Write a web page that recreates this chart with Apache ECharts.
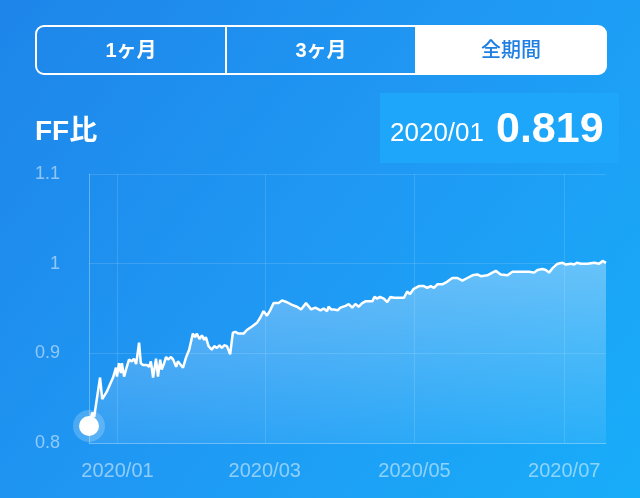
<!DOCTYPE html>
<html>
<head>
<meta charset="utf-8">
<script src="https://cdn.jsdelivr.net/npm/echarts@6/dist/echarts.min.js"></script>
<style>
html,body{margin:0;padding:0;width:640px;height:498px;overflow:hidden;}
#chart{width:640px;height:498px;}
</style>
</head>
<body>
<div id="chart"></div>
<script>
// ---- data (x = days since 2020-01-01) ----
const days = [-11.6,-10.3,-9.5,-7.1,-6.2,-4.4,-2.8,-1.8,-1.0,-0.6,-0.2,0.6,1.4,1.8,2.7,3.8,4.7,5.8,6.7,7.6,8.8,9.5,10.4,12.0,12.9,13.6,14.5,15.7,16.5,17.4,18.0,19.0,19.8,20.6,21.8,22.7,23.9,24.6,25.8,26.7,28.0,29.2,30.7,31.6,32.3,33.4,34.4,35.3,36.0,37.1,38.4,39.4,40.5,41.6,42.5,43.5,44.6,45.9,47.0,48.0,49.3,51.4,52.7,54.8,56.8,58.2,59.5,60.9,62.2,63.6,65.6,67.0,69.1,71.1,73.1,74.8,76.8,78.9,80.6,82.7,84.0,85.4,86.0,87.0,88.1,89.7,90.8,92.9,94.2,95.6,96.9,98.3,99.7,101.0,103.8,104.7,105.8,106.9,108.5,109.9,111.2,112.6,116.7,118.0,119.1,120.7,122.8,124.8,126.2,127.6,128.9,130.3,132.3,134.4,136.4,138.5,140.5,142.5,144.6,146.6,148.0,150.7,152.7,154.1,156.1,158.9,160.9,162.9,165.0,167.7,169.7,171.1,173.1,174.5,175.8,177.2,179.3,181.3,182.7,184.7,186.0,187.1,188.8,191.5,194.2,194.9,196.2,197.6,199.0];
const values = [0.819,0.834,0.829,0.873,0.849,0.857,0.867,0.873,0.873,0.884,0.874,0.889,0.878,0.889,0.874,0.885,0.893,0.891,0.894,0.888,0.912,0.889,0.887,0.887,0.885,0.891,0.873,0.894,0.874,0.893,0.882,0.889,0.896,0.893,0.896,0.893,0.885,0.891,0.887,0.884,0.896,0.904,0.922,0.918,0.922,0.916,0.920,0.915,0.918,0.908,0.904,0.908,0.906,0.909,0.906,0.909,0.908,0.899,0.923,0.924,0.922,0.922,0.926,0.930,0.934,0.940,0.947,0.942,0.948,0.956,0.956,0.959,0.957,0.954,0.952,0.949,0.956,0.949,0.951,0.948,0.950,0.947,0.952,0.949,0.949,0.948,0.951,0.953,0.955,0.951,0.955,0.952,0.956,0.958,0.958,0.963,0.961,0.963,0.961,0.957,0.963,0.962,0.962,0.969,0.966,0.972,0.975,0.975,0.973,0.975,0.973,0.977,0.977,0.980,0.984,0.984,0.981,0.984,0.987,0.988,0.986,0.987,0.990,0.992,0.988,0.987,0.991,0.991,0.991,0.991,0.990,0.993,0.994,0.993,0.990,0.995,1.000,1.001,0.999,1.000,0.999,1.001,1.000,1.000,1.001,1.002,1.000,1.003,1.001];
const tickDays = [0, 60, 121, 182];
const tickLabels = ['2020/01', '2020/03', '2020/05', '2020/07'];
const tabs = ['1ヶ月', '3ヶ月', '全期間'];
const title = 'FF比';
const headerDate = '2020/01';

const FONT = "'Liberation Sans', 'Noto Sans CJK JP', sans-serif";
const seriesData = days.map((d, i) => [d, values[i]]);

const chart = echarts.init(document.getElementById('chart'), null, {renderer: 'canvas'});

const tabW = 570 / 3;
const graphics = [
  {type: 'rect', z: -100, silent: true, shape: {x: 0, y: 0, width: 640, height: 498},
   style: {fill: {type: 'linear', x: 0, y: 0, x2: 1, y2: 1, colorStops: [
     {offset: 0, color: '#1e85e9'}, {offset: 0.5, color: '#1f99f4'}, {offset: 1, color: '#18adf9'}]}}},
  // selected (white) tab
  {type: 'rect', shape: {x: 36 + tabW * 2, y: 26, width: tabW, height: 48, r: [0, 8, 8, 0]}, style: {fill: '#ffffff'}},
  {type: 'rect', shape: {x: 36, y: 26, width: 570, height: 48, r: 8}, style: {fill: 'none', stroke: '#ffffff', lineWidth: 2}},
  {type: 'line', shape: {x1: 36 + tabW, y1: 26, x2: 36 + tabW, y2: 74}, style: {stroke: '#ffffff', lineWidth: 2}},
  {type: 'line', shape: {x1: 36 + tabW * 2, y1: 26, x2: 36 + tabW * 2, y2: 74}, style: {stroke: '#ffffff', lineWidth: 2}},
  // value box
  {type: 'rect', shape: {x: 380, y: 93, width: 239, height: 70}, style: {fill: '#1ea6fa'}},
  {type: 'text', x: 35, y: 132, style: {text: title, fill: '#ffffff', font: 'bold 28px ' + FONT, textAlign: 'left', textVerticalAlign: 'middle'}},
  {type: 'text', x: 390, y: 134, style: {text: headerDate, fill: '#ffffff', font: '26px ' + FONT, textAlign: 'left', textVerticalAlign: 'middle'}},
  {type: 'text', x: 496, y: 130, style: {text: values[0].toFixed(3), fill: '#ffffff', font: 'bold 43px ' + FONT, textAlign: 'left', textVerticalAlign: 'middle'}}
];
tabs.forEach((t, i) => {
  graphics.push({type: 'text', x: 36 + tabW * i + tabW / 2, y: 51,
    style: {text: t, fill: i === 2 ? '#1f7fe2' : '#ffffff', font: (i === 2 ? '500 ' : 'bold ') + '20px ' + FONT,
      textAlign: 'center', textVerticalAlign: 'middle'}});
});

const option = {
  animation: false,
  graphic: graphics,
  grid: {left: 89, right: 34, top: 174, bottom: 55, containLabel: false},
  xAxis: {
    type: 'value', min: 'dataMin', max: 'dataMax',
    axisLine: {show: true, onZero: false, lineStyle: {color: 'rgba(255,255,255,0.25)', width: 1}},
    axisTick: {show: false},
    splitLine: {show: false},
    axisLabel: {
      customValues: tickDays,
      formatter: v => { const k = tickDays.indexOf(v); return k >= 0 ? tickLabels[k] : ''; },
      color: 'rgba(255,255,255,0.5)', fontSize: 20, fontFamily: FONT, margin: 18
    }
  },
  yAxis: {
    type: 'value', min: 0.8, max: 1.1, interval: 0.1,
    axisLine: {show: true, onZero: false, lineStyle: {color: 'rgba(255,255,255,0.3)', width: 1}},
    axisTick: {show: false},
    splitLine: {show: true, lineStyle: {color: 'rgba(255,255,255,0.13)', width: 1}},
    axisLabel: {color: 'rgba(255,255,255,0.5)', fontSize: 18, fontFamily: FONT, margin: 29}
  },
  series: [
    {
      type: 'line', data: seriesData, showSymbol: false, smooth: false,
      lineStyle: {color: '#ffffff', width: 2.5},
      areaStyle: {color: {type: 'linear', x: 0, y: 0, x2: 0, y2: 1, colorStops: [
        {offset: 0, color: 'rgba(255,255,255,0.48)'}, {offset: 1, color: 'rgba(255,255,255,0.1)'}]}},
      markLine: {
        silent: true, symbol: ['none', 'none'], label: {show: false},
        lineStyle: {color: 'rgba(255,255,255,0.13)', width: 1, type: 'solid'},
        data: tickDays.map(d => ({xAxis: d}))
      },
      z: 2
    },
    {
      type: 'scatter', data: [seriesData[0]], symbolSize: 32, clip: false, silent: true,
      itemStyle: {color: 'rgba(255,255,255,0.2)', opacity: 1}, z: 3
    },
    {
      type: 'scatter', data: [seriesData[0]], symbolSize: 20, clip: false, silent: true,
      itemStyle: {color: '#ffffff', opacity: 1}, z: 4
    }
  ]
};
chart.setOption(option);
</script>
</body>
</html>
